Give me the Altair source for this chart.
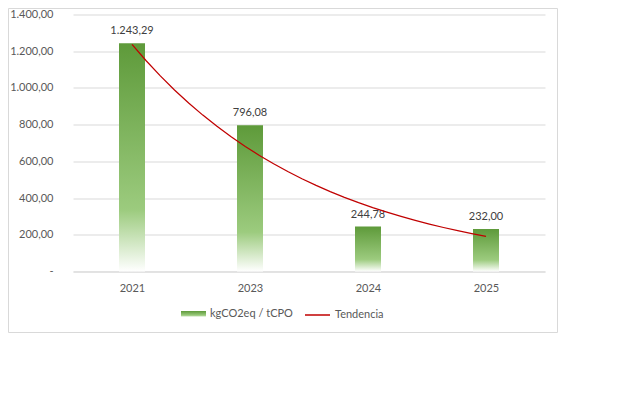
import altair as alt
import pandas as pd

years = ["2021", "2023", "2024", "2025"]
values = [1243.29, 796.08, 244.78, 232.00]
positions = [1, 2, 3, 4]
bar_series = "kgCO2eq / tCPO"
trend_series = "Tendencia"
y_ticks = [0, 200, 400, 600, 800, 1000, 1200, 1400]

df = pd.DataFrame({"year": years, "value": values, "idx": positions})

FONT = "Lato"
FS = 11

gradient = alt.Gradient(
    gradient="linear",
    x1=0, y1=0, x2=0, y2=1,
    stops=[
        alt.GradientStop(color="#5e9a3a", offset=0),
        alt.GradientStop(color="#9ccb7e", offset=0.73),
        alt.GradientStop(color="#ffffff", offset=1),
    ],
)

year_list = "[" + ",".join(f"'{y}'" for y in years) + "]"
xscale = alt.Scale(domain=[0.5, 4.5], nice=False, zero=False, padding=0)
xaxis = alt.Axis(
    title=None, values=positions, labelAngle=0, ticks=False, domainColor="#d9d9d9",
    labelPadding=11, labelFont=FONT, labelFontSize=FS, labelColor="#595959",
    grid=False, labelExpr=f"{year_list}[datum.value - 1]", labelOverlap=False,
)
yscale = alt.Scale(domain=[0, 1400], nice=False)
yaxis = alt.Axis(
    title=None, values=y_ticks, tickCount=8, domain=False, ticks=False,
    labelPadding=20, labelFont=FONT, labelFontSize=FS, labelColor="#595959",
    gridColor="#d9d9d9", gridWidth=1, labelOverlap=False, labelFlush=False,
    labelExpr="datum.value == 0 ? '-' : format(datum.value, ',.2f')",
)

frame = alt.Chart(pd.DataFrame({"a": [0]})).mark_rect(
    fill="transparent", stroke="#d9d9d9", strokeWidth=1
).encode(
    x=alt.value(-64.5), x2=alt.value(484.5), y=alt.value(-6.0), y2=alt.value(318.0)
)

legend_common = dict(
    orient="none", direction="horizontal", title=None,
    labelFont=FONT, labelFontSize=FS, labelColor="#595959",
    symbolSize=625, labelOffset=4, padding=0,
)

bars = alt.Chart(df).transform_calculate(series=f"'{bar_series}'").mark_bar(
    color=gradient, width=26
).encode(
    x=alt.X("idx:Q", scale=xscale, axis=xaxis),
    y=alt.Y("value:Q", scale=yscale, axis=yaxis),
    opacity=alt.Opacity(
        "series:N",
        scale=alt.Scale(domain=[bar_series], range=[1]),
        legend=alt.Legend(
            legendX=108, legendY=287,
            symbolType="M-1,-0.24H1V0.24H-1Z",
            symbolFillColor="#76ad55", symbolStrokeWidth=0,
            **legend_common,
        ),
    ),
)

labels = alt.Chart(df).mark_text(
    baseline="bottom", dy=-7, font=FONT, fontSize=FS, color="#404040"
).encode(
    x=alt.X("idx:Q", scale=xscale, axis=xaxis),
    y=alt.Y("value:Q", scale=yscale, axis=yaxis),
    text=alt.Text("value:Q", format=",.2f"),
)

trend = (
    alt.Chart(df)
    .transform_calculate(ly="log(datum.value)")
    .transform_regression("idx", "ly", method="poly", order=1, extent=[1, 4])
    .transform_calculate(yt="exp(datum.ly)", series=f"'{trend_series}'")
    .mark_line(strokeWidth=1.25)
    .encode(
        x=alt.X("idx:Q", scale=xscale, axis=xaxis),
        y=alt.Y("yt:Q", scale=yscale, axis=yaxis),
        color=alt.Color(
            "series:N",
            scale=alt.Scale(domain=[trend_series], range=["#c00000"]),
            legend=alt.Legend(
                legendX=231, legendY=287,
                symbolType="stroke", symbolStrokeWidth=1.5,
                **legend_common,
            ),
        ),
    )
)

chart = (
    alt.layer(frame, bars, labels, trend)
    .properties(
        width=472, height=257,
        padding={"left": 65, "top": 6.5, "right": 58, "bottom": 72},
        autosize=alt.AutoSizeParams(type="none"),
    )
    .configure(locale={"number": {"decimal": ",", "thousands": ".", "grouping": [3], "currency": ["", " €"]}})
    .configure_axis(labelOverlap=False)
    .configure_view(stroke=None)
)

chart.save("out.html", embed_options={"renderer": "svg", "actions": False})
